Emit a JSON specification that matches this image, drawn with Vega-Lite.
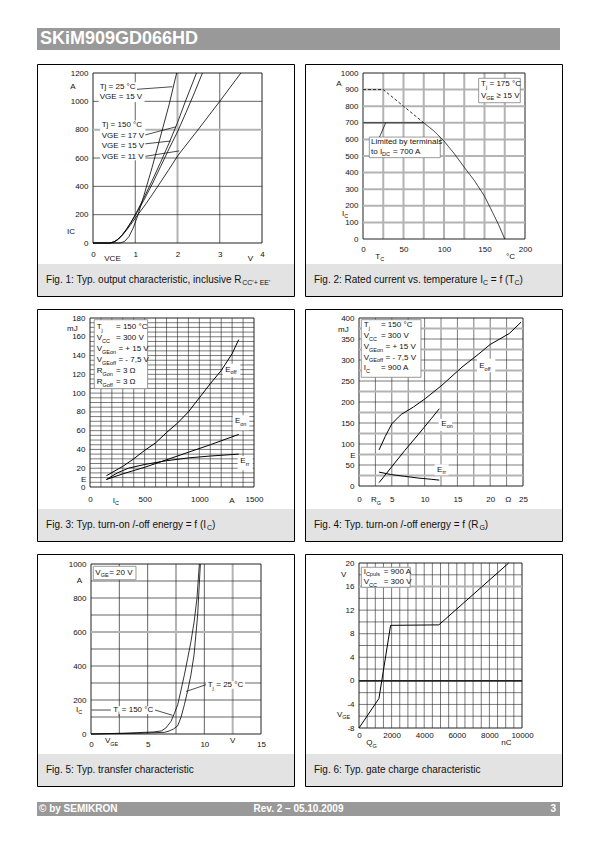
{
"$schema": "https://vega.github.io/schema/vega-lite/v6.json",
"background": "white",
"padding": {"left": 36, "top": 28, "right": 0, "bottom": 0},
"spacing": 15,
"config": {
 "font": "Liberation Sans",
 "view": {"stroke": null},
 "axis": {"grid": false, "ticks": false, "domain": false, "labelFont": "Liberation Sans", "labelFontSize": 8, "labelColor": "#111", "labelPadding": 5, "labelFlush": false, "labelOverlap": false, "labelBound": false},
 "text": {"font": "Liberation Sans", "align": "left", "baseline": "middle", "color": "#111"}
},
"datasets": {
 "p1g": [
  {"o":"v","x":0,"x2":0,"y":0,"y2":1200},{"o":"v","x":1,"x2":1,"y":0,"y2":1200},{"o":"v","x":2,"x2":2,"y":0,"y2":1200},{"o":"v","x":3,"x2":3,"y":0,"y2":1200},{"o":"v","x":4,"x2":4,"y":0,"y2":1200},
  {"o":"h","y":0,"y2":0,"x":0,"x2":4},{"o":"h","y":200,"y2":200,"x":0,"x2":4},{"o":"h","y":400,"y2":400,"x":0,"x2":4},{"o":"h","y":600,"y2":600,"x":0,"x2":4},{"o":"h","y":800,"y2":800,"x":0,"x2":4},{"o":"h","y":1000,"y2":1000,"x":0,"x2":4},{"o":"h","y":1200,"y2":1200,"x":0,"x2":4}
 ],
 "p1c": [
  {"s":"a25","x":0,"y":0},{"s":"a25","x":0.65,"y":0},{"s":"a25","x":0.75,"y":12},{"s":"a25","x":0.85,"y":45},{"s":"a25","x":0.95,"y":105},{"s":"a25","x":1.05,"y":185},{"s":"a25","x":1.2,"y":330},{"s":"a25","x":1.4,"y":535},{"s":"a25","x":1.6,"y":755},{"s":"a25","x":1.8,"y":975},{"s":"a25","x":1.98,"y":1200},
  {"s":"b17","x":0,"y":0},{"s":"b17","x":0.4,"y":0},{"s":"b17","x":0.5,"y":8},{"s":"b17","x":0.6,"y":28},{"s":"b17","x":0.7,"y":60},{"s":"b17","x":0.8,"y":100},{"s":"b17","x":0.9,"y":148},{"s":"b17","x":1.0,"y":200},{"s":"b17","x":1.2,"y":315},{"s":"b17","x":1.4,"y":440},{"s":"b17","x":1.6,"y":570},{"s":"b17","x":1.8,"y":705},{"s":"b17","x":2.0,"y":850},{"s":"b17","x":2.2,"y":1010},{"s":"b17","x":2.45,"y":1200},
  {"s":"c15","x":0,"y":0},{"s":"c15","x":0.4,"y":0},{"s":"c15","x":0.5,"y":8},{"s":"c15","x":0.6,"y":28},{"s":"c15","x":0.7,"y":60},{"s":"c15","x":0.8,"y":100},{"s":"c15","x":0.9,"y":146},{"s":"c15","x":1.0,"y":195},{"s":"c15","x":1.2,"y":300},{"s":"c15","x":1.4,"y":415},{"s":"c15","x":1.6,"y":540},{"s":"c15","x":1.8,"y":665},{"s":"c15","x":2.0,"y":785},{"s":"c15","x":2.2,"y":920},{"s":"c15","x":2.4,"y":1060},{"s":"c15","x":2.59,"y":1200},
  {"s":"d11","x":0.4,"y":0},{"s":"d11","x":0.5,"y":8},{"s":"d11","x":0.6,"y":27},{"s":"d11","x":0.7,"y":57},{"s":"d11","x":0.8,"y":93},{"s":"d11","x":0.9,"y":133},{"s":"d11","x":1.0,"y":175},{"s":"d11","x":1.2,"y":255},{"s":"d11","x":1.4,"y":340},{"s":"d11","x":1.6,"y":430},{"s":"d11","x":1.8,"y":520},{"s":"d11","x":2.0,"y":614},{"s":"d11","x":2.5,"y":805},{"s":"d11","x":3.0,"y":1000},{"s":"d11","x":3.5,"y":1200}
 ],
 "p1b": [
  {"k":"w","x":0.13,"x2":1.22,"y":1135,"y2":995},{"k":"w","x":0.17,"x2":1.24,"y":865,"y2":585}
 ],
 "p1l": [
  {"x":1.04,"y":1085,"x2":1.88,"y2":1103},{"x":1.24,"y":763,"x2":1.96,"y2":820},{"x":1.24,"y":700,"x2":1.84,"y2":720},{"x":1.24,"y":612,"x2":2.04,"y2":650}
 ],
 "p1t": [
  {"k":"m","x":0.158,"y":1098,"t":"Tj = 25 °C"},{"k":"m","x":0.158,"y":1032,"t":"VGE = 15 V"},{"k":"m","x":0.206,"y":834,"t":"Tj = 150 °C"},{"k":"m","x":0.206,"y":758,"t":"VGE = 17 V"},{"k":"m","x":0.206,"y":683,"t":"VGE = 15 V"},{"k":"m","x":0.206,"y":609,"t":"VGE = 11 V"},
  {"k":"m","x":-0.537,"y":1102,"t":"A"},{"k":"m","x":-0.615,"y":80,"t":"IC"},{"k":"m","x":0.267,"y":-110,"t":"VCE"},{"k":"m","x":3.66,"y":-110,"t":"V"},
  {"k":"c","x":-1.112,"y":-261,"t":"Fig. 1: Typ. output characteristic, inclusive R"},{"k":"cs","x":3.531,"y":-282,"t":"CC'+ EE'"}
 ],
 "p2g": [
  {"o":"v","x":0,"x2":0,"y":0,"y2":1000},{"o":"v","x":25,"x2":25,"y":0,"y2":1000},{"o":"v","x":50,"x2":50,"y":0,"y2":1000},{"o":"v","x":75,"x2":75,"y":0,"y2":1000},{"o":"v","x":100,"x2":100,"y":0,"y2":1000},{"o":"v","x":125,"x2":125,"y":0,"y2":1000},{"o":"v","x":150,"x2":150,"y":0,"y2":1000},{"o":"v","x":175,"x2":175,"y":0,"y2":1000},{"o":"v","x":200,"x2":200,"y":0,"y2":1000},
  {"o":"h","y":0,"y2":0,"x":0,"x2":200},{"o":"h","y":100,"y2":100,"x":0,"x2":200},{"o":"h","y":200,"y2":200,"x":0,"x2":200},{"o":"h","y":300,"y2":300,"x":0,"x2":200},{"o":"h","y":400,"y2":400,"x":0,"x2":200},{"o":"h","y":500,"y2":500,"x":0,"x2":200},{"o":"h","y":600,"y2":600,"x":0,"x2":200},{"o":"h","y":700,"y2":700,"x":0,"x2":200},{"o":"h","y":800,"y2":800,"x":0,"x2":200},{"o":"h","y":900,"y2":900,"x":0,"x2":200},{"o":"h","y":1000,"y2":1000,"x":0,"x2":200}
 ],
 "p2c": [
  {"s":"solid","x":0,"y":700},{"s":"solid","x":75,"y":700},{"s":"solid","x":87.5,"y":651},{"s":"solid","x":100,"y":590},{"s":"solid","x":112.5,"y":515},{"s":"solid","x":125,"y":432},{"s":"solid","x":137.5,"y":352},{"s":"solid","x":150,"y":258},{"s":"solid","x":160,"y":160},{"s":"solid","x":167.5,"y":85},{"s":"solid","x":175,"y":0},
  {"s":"dash","x":0,"y":900},{"s":"dash","x":25,"y":900},{"s":"dash","x":75,"y":700}
 ],
 "p2b": [
  {"k":"b","x":142.8,"x2":194.2,"y":968,"y2":821},{"k":"b","x":7.8,"x2":95.4,"y":614,"y2":490}
 ],
 "p2l": [{"x":28,"y":700,"x2":20.4,"y2":614}],
 "p2t": [
  {"k":"m","x":145.7,"y":932,"t":"T"},{"k":"m","x":156.2,"y":932,"t":"= 175 °C"},{"k":"m","x":145.7,"y":863,"t":"V"},{"k":"m","x":164.7,"y":863,"t":"≥ 15 V"},
  {"k":"m","x":9.9,"y":582,"t":"Limited by terminals"},{"k":"m","x":9.9,"y":526,"t":"to I"},{"k":"m","x":37,"y":526,"t":"= 700 A"},
  {"k":"m","x":-33,"y":935,"t":"A"},{"k":"m","x":-26,"y":152,"t":"I"},{"k":"m","x":15.2,"y":-108,"t":"T"},{"k":"m","x":176.5,"y":-108,"t":"°C"},
  {"k":"s","x":151.7,"y":917,"t":"j"},{"k":"s","x":152.2,"y":848,"t":"GE"},{"k":"s","x":23.6,"y":511,"t":"DC"},{"k":"s","x":-23.3,"y":138,"t":"C"},{"k":"s","x":21.2,"y":-123,"t":"C"},
  {"k":"c","x":-60.5,"y":-247,"t":"Fig. 2: Rated current vs. temperature I"},{"k":"c","x":157.8,"y":-247,"t":"= f (T"},{"k":"c","x":193.2,"y":-247,"t":")"},
  {"k":"cs","x":148.1,"y":-265,"t":"C"},{"k":"cs","x":186.9,"y":-265,"t":"C"}
 ],
 "p3g": [
  {"o":"v","x":0,"x2":0,"y":0,"y2":180},{"o":"v","x":100,"x2":100,"y":0,"y2":180},{"o":"v","x":200,"x2":200,"y":0,"y2":180},{"o":"v","x":300,"x2":300,"y":0,"y2":180},{"o":"v","x":400,"x2":400,"y":0,"y2":180},{"o":"v","x":500,"x2":500,"y":0,"y2":180},{"o":"v","x":600,"x2":600,"y":0,"y2":180},{"o":"v","x":700,"x2":700,"y":0,"y2":180},{"o":"v","x":800,"x2":800,"y":0,"y2":180},{"o":"v","x":900,"x2":900,"y":0,"y2":180},{"o":"v","x":1000,"x2":1000,"y":0,"y2":180},{"o":"v","x":1100,"x2":1100,"y":0,"y2":180},{"o":"v","x":1200,"x2":1200,"y":0,"y2":180},{"o":"v","x":1300,"x2":1300,"y":0,"y2":180},{"o":"v","x":1400,"x2":1400,"y":0,"y2":180},{"o":"v","x":1500,"x2":1500,"y":0,"y2":180},
  {"o":"h","y":0,"y2":0,"x":0,"x2":1500},{"o":"h","y":5,"y2":5,"x":0,"x2":1500},{"o":"h","y":10,"y2":10,"x":0,"x2":1500},{"o":"h","y":15,"y2":15,"x":0,"x2":1500},{"o":"h","y":20,"y2":20,"x":0,"x2":1500},{"o":"h","y":25,"y2":25,"x":0,"x2":1500},{"o":"h","y":30,"y2":30,"x":0,"x2":1500},{"o":"h","y":35,"y2":35,"x":0,"x2":1500},{"o":"h","y":40,"y2":40,"x":0,"x2":1500},{"o":"h","y":45,"y2":45,"x":0,"x2":1500},{"o":"h","y":50,"y2":50,"x":0,"x2":1500},{"o":"h","y":55,"y2":55,"x":0,"x2":1500},{"o":"h","y":60,"y2":60,"x":0,"x2":1500},{"o":"h","y":65,"y2":65,"x":0,"x2":1500},{"o":"h","y":70,"y2":70,"x":0,"x2":1500},{"o":"h","y":75,"y2":75,"x":0,"x2":1500},{"o":"h","y":80,"y2":80,"x":0,"x2":1500},{"o":"h","y":85,"y2":85,"x":0,"x2":1500},{"o":"h","y":90,"y2":90,"x":0,"x2":1500},{"o":"h","y":95,"y2":95,"x":0,"x2":1500},{"o":"h","y":100,"y2":100,"x":0,"x2":1500},{"o":"h","y":105,"y2":105,"x":0,"x2":1500},{"o":"h","y":110,"y2":110,"x":0,"x2":1500},{"o":"h","y":115,"y2":115,"x":0,"x2":1500},{"o":"h","y":120,"y2":120,"x":0,"x2":1500},{"o":"h","y":125,"y2":125,"x":0,"x2":1500},{"o":"h","y":130,"y2":130,"x":0,"x2":1500},{"o":"h","y":135,"y2":135,"x":0,"x2":1500},{"o":"h","y":140,"y2":140,"x":0,"x2":1500},{"o":"h","y":145,"y2":145,"x":0,"x2":1500},{"o":"h","y":150,"y2":150,"x":0,"x2":1500},{"o":"h","y":155,"y2":155,"x":0,"x2":1500},{"o":"h","y":160,"y2":160,"x":0,"x2":1500},{"o":"h","y":165,"y2":165,"x":0,"x2":1500},{"o":"h","y":170,"y2":170,"x":0,"x2":1500},{"o":"h","y":175,"y2":175,"x":0,"x2":1500},{"o":"h","y":180,"y2":180,"x":0,"x2":1500}
 ],
 "p3c": [
  {"s":"off","x":150,"y":12},{"s":"off","x":300,"y":22},{"s":"off","x":400,"y":30},{"s":"off","x":500,"y":39},{"s":"off","x":600,"y":47},{"s":"off","x":700,"y":58},{"s":"off","x":800,"y":68},{"s":"off","x":900,"y":80},{"s":"off","x":1000,"y":95},{"s":"off","x":1100,"y":110},{"s":"off","x":1200,"y":124},{"s":"off","x":1300,"y":142},{"s":"off","x":1360,"y":157},
  {"s":"on","x":150,"y":8},{"s":"on","x":300,"y":14},{"s":"on","x":500,"y":21},{"s":"on","x":700,"y":29},{"s":"on","x":900,"y":37},{"s":"on","x":1100,"y":45},{"s":"on","x":1360,"y":56},
  {"s":"rr","x":150,"y":8},{"s":"rr","x":250,"y":15},{"s":"rr","x":350,"y":20},{"s":"rr","x":500,"y":24},{"s":"rr","x":700,"y":28},{"s":"rr","x":900,"y":31},{"s":"rr","x":1100,"y":33},{"s":"rr","x":1360,"y":35}
 ],
 "p3b": [
  {"k":"b","x":39,"x2":527,"y":178.2,"y2":104.7},
  {"k":"w","x":1214,"x2":1375,"y":131.3,"y2":117.2},{"k":"w","x":1305,"x2":1457,"y":76.4,"y2":60.4},{"k":"w","x":1351,"x2":1488,"y":33,"y2":17.8}
 ],
 "p3t": [
  {"k":"m","x":61,"y":170.4,"t":"T"},{"k":"m","x":61,"y":158.7,"t":"V"},{"k":"m","x":61,"y":146.6,"t":"V"},{"k":"m","x":61,"y":134.9,"t":"V"},{"k":"m","x":61,"y":123.2,"t":"R"},{"k":"m","x":61,"y":111.5,"t":"R"},
  {"k":"m","x":238,"y":170.4,"t":"= 150 °C"},{"k":"m","x":238,"y":158.7,"t":"= 300 V"},{"k":"m","x":260,"y":146.6,"t":"= + 15 V"},{"k":"m","x":260,"y":134.9,"t":"= - 7,5 V"},{"k":"m","x":238,"y":123.2,"t":"= 3 Ω"},{"k":"m","x":238,"y":111.5,"t":"= 3 Ω"},
  {"k":"m","x":1237,"y":125,"t":"E"},{"k":"m","x":1326,"y":70,"t":"E"},{"k":"m","x":1375,"y":27.4,"t":"E"},
  {"k":"m","x":-210,"y":168.6,"t":"mJ"},{"k":"m","x":-82,"y":7.8,"t":"E"},{"k":"m","x":207.6,"y":-14.5,"t":"I"},{"k":"m","x":1274,"y":-14.5,"t":"A"},
  {"k":"s","x":105.8,"y":167.7,"t":"j"},{"k":"s","x":109.5,"y":156,"t":"CC"},{"k":"s","x":109.5,"y":143.9,"t":"GEon"},{"k":"s","x":109.5,"y":132.2,"t":"GEoff"},{"k":"s","x":114,"y":120.5,"t":"Gon"},{"k":"s","x":114,"y":108.8,"t":"Goff"},
  {"k":"s","x":1285.5,"y":122.3,"t":"off"},{"k":"s","x":1374.5,"y":67.3,"t":"on"},{"k":"s","x":1423.5,"y":24.7,"t":"rr"},{"k":"s","x":227.7,"y":-17.2,"t":"C"},
  {"k":"c","x":-402,"y":-40.5,"t":"Fig. 3: Typ. turn-on /-off energy = f (I"},{"k":"c","x":1115.4,"y":-40.5,"t":")"},{"k":"cs","x":1069,"y":-43.7,"t":"C"}
 ],
 "p4g": [
  {"o":"v","x":0,"x2":0,"y":0,"y2":400},{"o":"v","x":2.5,"x2":2.5,"y":0,"y2":400},{"o":"v","x":5,"x2":5,"y":0,"y2":400},{"o":"v","x":7.5,"x2":7.5,"y":0,"y2":400},{"o":"v","x":10,"x2":10,"y":0,"y2":400},{"o":"v","x":12.5,"x2":12.5,"y":0,"y2":400},{"o":"v","x":15,"x2":15,"y":0,"y2":400},{"o":"v","x":17.5,"x2":17.5,"y":0,"y2":400},{"o":"v","x":20,"x2":20,"y":0,"y2":400},{"o":"v","x":22.5,"x2":22.5,"y":0,"y2":400},{"o":"v","x":25,"x2":25,"y":0,"y2":400},
  {"o":"h","y":0,"y2":0,"x":0,"x2":25},{"o":"h","y":25,"y2":25,"x":0,"x2":25},{"o":"h","y":50,"y2":50,"x":0,"x2":25},{"o":"h","y":75,"y2":75,"x":0,"x2":25},{"o":"h","y":100,"y2":100,"x":0,"x2":25},{"o":"h","y":125,"y2":125,"x":0,"x2":25},{"o":"h","y":150,"y2":150,"x":0,"x2":25},{"o":"h","y":175,"y2":175,"x":0,"x2":25},{"o":"h","y":200,"y2":200,"x":0,"x2":25},{"o":"h","y":225,"y2":225,"x":0,"x2":25},{"o":"h","y":250,"y2":250,"x":0,"x2":25},{"o":"h","y":275,"y2":275,"x":0,"x2":25},{"o":"h","y":300,"y2":300,"x":0,"x2":25},{"o":"h","y":325,"y2":325,"x":0,"x2":25},{"o":"h","y":350,"y2":350,"x":0,"x2":25},{"o":"h","y":375,"y2":375,"x":0,"x2":25},{"o":"h","y":400,"y2":400,"x":0,"x2":25}
 ],
 "p4c": [
  {"s":"off","x":3.06,"y":86},{"s":"off","x":4,"y":118},{"s":"off","x":5,"y":148},{"s":"off","x":6,"y":164},{"s":"off","x":6.5,"y":171},{"s":"off","x":8.3,"y":188},{"s":"off","x":10.1,"y":208},{"s":"off","x":12.65,"y":240},{"s":"off","x":15.7,"y":283},{"s":"off","x":18.3,"y":315},{"s":"off","x":20,"y":337},{"s":"off","x":22.9,"y":363},{"s":"off","x":24.7,"y":390},
  {"s":"on","x":3.06,"y":8},{"s":"on","x":5,"y":46},{"s":"on","x":7,"y":85},{"s":"on","x":9,"y":122},{"s":"on","x":11,"y":160},{"s":"on","x":12.24,"y":184},
  {"s":"rr","x":3.06,"y":33},{"s":"rr","x":5,"y":27},{"s":"rr","x":7,"y":23},{"s":"rr","x":9,"y":19},{"s":"rr","x":11,"y":16},{"s":"rr","x":12.24,"y":14}
 ],
 "p4b": [
  {"k":"b","x":0.35,"x2":9.45,"y":396,"y2":258.8},
  {"k":"w","x":17.99,"x2":20.78,"y":303,"y2":271},{"k":"w","x":12.15,"x2":14.18,"y":160,"y2":131},{"k":"w","x":11.54,"x2":13.67,"y":51.7,"y2":25.5}
 ],
 "p4t": [
  {"k":"m","x":0.72,"y":382.6,"t":"T"},{"k":"m","x":0.72,"y":356.4,"t":"V"},{"k":"m","x":0.72,"y":331,"t":"V"},{"k":"m","x":0.72,"y":305.5,"t":"V"},{"k":"m","x":0.72,"y":281,"t":"I"},
  {"k":"m","x":3.35,"y":382.6,"t":"= 150 °C"},{"k":"m","x":3.35,"y":356.4,"t":"= 300 V"},{"k":"m","x":4.04,"y":331,"t":"= + 15 V"},{"k":"m","x":4.04,"y":305.5,"t":"= - 7,5 V"},{"k":"m","x":3.35,"y":281,"t":"= 900 A"},
  {"k":"m","x":18.34,"y":285,"t":"E"},{"k":"m","x":12.55,"y":148,"t":"E"},{"k":"m","x":11.9,"y":38.8,"t":"E"},
  {"k":"m","x":-3.2,"y":372,"t":"mJ"},{"k":"m","x":-1.33,"y":71,"t":"E"},{"k":"m","x":1.83,"y":-33.6,"t":"R"},{"k":"m","x":22.3,"y":-33.6,"t":"Ω"},
  {"k":"s","x":1.47,"y":376.6,"t":"j"},{"k":"s","x":1.53,"y":350.4,"t":"CC"},{"k":"s","x":1.53,"y":325,"t":"GEon"},{"k":"s","x":1.53,"y":299.5,"t":"GEoff"},{"k":"s","x":1.06,"y":275,"t":"C"},
  {"k":"s","x":19.15,"y":279,"t":"off"},{"k":"s","x":13.36,"y":142,"t":"on"},{"k":"s","x":12.71,"y":32.8,"t":"rr"},{"k":"s","x":2.71,"y":-39.6,"t":"G"},
  {"k":"c","x":-6.86,"y":-92.9,"t":"Fig. 4: Typ. turn-on /-off energy = f (R"},{"k":"c","x":19.18,"y":-92.9,"t":")"},{"k":"cs","x":18.35,"y":-100,"t":"G"}
 ],
 "p5g": [
  {"o":"v","x":0,"x2":0,"y":0,"y2":1000},{"o":"v","x":2.5,"x2":2.5,"y":0,"y2":1000},{"o":"v","x":5,"x2":5,"y":0,"y2":1000},{"o":"v","x":7.5,"x2":7.5,"y":0,"y2":1000},{"o":"v","x":10,"x2":10,"y":0,"y2":1000},{"o":"v","x":12.5,"x2":12.5,"y":0,"y2":1000},{"o":"v","x":15,"x2":15,"y":0,"y2":1000},
  {"o":"h","y":0,"y2":0,"x":0,"x2":15},{"o":"h","y":100,"y2":100,"x":0,"x2":15},{"o":"h","y":200,"y2":200,"x":0,"x2":15},{"o":"h","y":300,"y2":300,"x":0,"x2":15},{"o":"h","y":400,"y2":400,"x":0,"x2":15},{"o":"h","y":500,"y2":500,"x":0,"x2":15},{"o":"h","y":600,"y2":600,"x":0,"x2":15},{"o":"h","y":700,"y2":700,"x":0,"x2":15},{"o":"h","y":800,"y2":800,"x":0,"x2":15},{"o":"h","y":900,"y2":900,"x":0,"x2":15},{"o":"h","y":1000,"y2":1000,"x":0,"x2":15}
 ],
 "p5c": [
  {"s":"t150","x":0,"y":0},{"s":"t150","x":3,"y":5},{"s":"t150","x":5.5,"y":12},{"s":"t150","x":6.2,"y":18},{"s":"t150","x":6.6,"y":35},{"s":"t150","x":7.06,"y":74},{"s":"t150","x":7.35,"y":120},{"s":"t150","x":7.65,"y":172},{"s":"t150","x":7.95,"y":260},{"s":"t150","x":8.24,"y":348},{"s":"t150","x":8.53,"y":445},{"s":"t150","x":8.82,"y":544},{"s":"t150","x":9.1,"y":660},{"s":"t150","x":9.35,"y":798},{"s":"t150","x":9.56,"y":1000},
  {"s":"t25","x":0,"y":0},{"s":"t25","x":4,"y":4},{"s":"t25","x":6.5,"y":10},{"s":"t25","x":6.9,"y":18},{"s":"t25","x":7.3,"y":30},{"s":"t25","x":7.65,"y":48},{"s":"t25","x":7.95,"y":100},{"s":"t25","x":8.24,"y":172},{"s":"t25","x":8.53,"y":255},{"s":"t25","x":8.82,"y":348},{"s":"t25","x":9.1,"y":470},{"s":"t25","x":9.41,"y":700},{"s":"t25","x":9.65,"y":1000}
 ],
 "p5b": [
  {"k":"b","x":0.2,"x2":3.97,"y":986.5,"y2":907.6},
  {"k":"w","x":10.15,"x2":13.6,"y":310,"y2":266.5},{"k":"w","x":1.76,"x2":5.65,"y":163,"y2":117.6}
 ],
 "p5l": [
  {"x":8.38,"y":250,"x2":10.15,"y2":290},{"x":0.05,"y":141,"x2":1.76,"y2":141},{"x":5.65,"y":141,"x2":7.2,"y2":110}
 ],
 "p5t": [
  {"k":"m","x":0.38,"y":949,"t":"V"},{"k":"m","x":1.6,"y":949,"t":"= 20 V"},{"k":"m","x":-1.26,"y":898,"t":"A"},{"k":"m","x":-1.32,"y":143,"t":"I"},{"k":"m","x":1.235,"y":-42,"t":"V"},{"k":"m","x":12.26,"y":-42,"t":"V"},
  {"k":"m","x":10.3,"y":286,"t":"T"},{"k":"m","x":11.05,"y":286,"t":"= 25 °C"},{"k":"m","x":1.97,"y":141,"t":"T"},{"k":"m","x":2.72,"y":141,"t":"= 150 °C"},
  {"k":"s","x":0.85,"y":934,"t":"GE"},{"k":"s","x":-1.13,"y":128,"t":"C"},{"k":"s","x":1.7,"y":-57,"t":"GE"},{"k":"s","x":10.73,"y":271,"t":"j"},{"k":"s","x":2.4,"y":126,"t":"j"},
  {"k":"c","x":-3.97,"y":-212,"t":"Fig. 5: Typ. transfer characteristic"}
 ],
 "p6g": [
  {"o":"v","x":0,"x2":0,"y":-8,"y2":20},{"o":"v","x":500,"x2":500,"y":-8,"y2":20},{"o":"v","x":1000,"x2":1000,"y":-8,"y2":20},{"o":"v","x":1500,"x2":1500,"y":-8,"y2":20},{"o":"v","x":2000,"x2":2000,"y":-8,"y2":20},{"o":"v","x":2500,"x2":2500,"y":-8,"y2":20},{"o":"v","x":3000,"x2":3000,"y":-8,"y2":20},{"o":"v","x":3500,"x2":3500,"y":-8,"y2":20},{"o":"v","x":4000,"x2":4000,"y":-8,"y2":20},{"o":"v","x":4500,"x2":4500,"y":-8,"y2":20},{"o":"v","x":5000,"x2":5000,"y":-8,"y2":20},{"o":"v","x":5500,"x2":5500,"y":-8,"y2":20},{"o":"v","x":6000,"x2":6000,"y":-8,"y2":20},{"o":"v","x":6500,"x2":6500,"y":-8,"y2":20},{"o":"v","x":7000,"x2":7000,"y":-8,"y2":20},{"o":"v","x":7500,"x2":7500,"y":-8,"y2":20},{"o":"v","x":8000,"x2":8000,"y":-8,"y2":20},{"o":"v","x":8500,"x2":8500,"y":-8,"y2":20},{"o":"v","x":9000,"x2":9000,"y":-8,"y2":20},{"o":"v","x":9500,"x2":9500,"y":-8,"y2":20},{"o":"v","x":10000,"x2":10000,"y":-8,"y2":20},
  {"o":"h","y":-8,"y2":-8,"x":0,"x2":10000},{"o":"h","y":-6,"y2":-6,"x":0,"x2":10000},{"o":"h","y":-4,"y2":-4,"x":0,"x2":10000},{"o":"h","y":-2,"y2":-2,"x":0,"x2":10000},{"o":"h","y":0,"y2":0,"x":0,"x2":10000},{"o":"h","y":2,"y2":2,"x":0,"x2":10000},{"o":"h","y":4,"y2":4,"x":0,"x2":10000},{"o":"h","y":6,"y2":6,"x":0,"x2":10000},{"o":"h","y":8,"y2":8,"x":0,"x2":10000},{"o":"h","y":10,"y2":10,"x":0,"x2":10000},{"o":"h","y":12,"y2":12,"x":0,"x2":10000},{"o":"h","y":14,"y2":14,"x":0,"x2":10000},{"o":"h","y":16,"y2":16,"x":0,"x2":10000},{"o":"h","y":18,"y2":18,"x":0,"x2":10000},{"o":"h","y":20,"y2":20,"x":0,"x2":10000}
 ],
 "p6c": [
  {"s":"q","x":0,"y":-8},{"s":"q","x":1224,"y":-3},{"s":"q","x":1939,"y":9.42},{"s":"q","x":4898,"y":9.5},{"s":"q","x":9184,"y":20}
 ],
 "p6b": [{"k":"b","x":141,"x2":3147,"y":19.27,"y2":15.88}],
 "p6t": [
  {"k":"m","x":288,"y":18.47,"t":"I"},{"k":"m","x":1515,"y":18.47,"t":"= 900 A"},{"k":"m","x":288,"y":16.72,"t":"V"},{"k":"m","x":1515,"y":16.72,"t":"= 300 V"},
  {"k":"m","x":-1104,"y":18,"t":"V"},{"k":"m","x":-1350,"y":-5.74,"t":"V"},{"k":"m","x":448,"y":-10.6,"t":"Q"},{"k":"m","x":8730,"y":-10.6,"t":"nC"},
  {"k":"s","x":423,"y":18.05,"t":"Cpuls"},{"k":"s","x":613,"y":16.3,"t":"CC"},{"k":"s","x":-1025,"y":-6.2,"t":"GE"},{"k":"s","x":828,"y":-11.0,"t":"G"},
  {"k":"c","x":-2761,"y":-15.13,"t":"Fig. 6: Typ. gate charge characteristic"}
 ]
},
"vconcat": [
 {"spacing": 13, "vconcat": [
  {"width": 523, "height": 22, "view": {"fill": "#999999", "stroke": null},
   "data": {"values": [{"t": "SKiM909GD066HD"}]},
   "mark": {"type": "text", "dx": 3, "fontSize": 18, "fontWeight": "bold", "color": "white"},
   "encoding": {"x": {"datum": 0, "type": "quantitative", "scale": {"domain": [0, 1]}, "axis": null},
                "y": {"datum": 0.5, "type": "quantitative", "scale": {"domain": [0, 1]}, "axis": null},
                "text": {"field": "t"}}},
  {"spacing": 11, "vconcat": [
   {"spacing": 9, "hconcat": [
    {"width": 257, "height": 232,
     "view": {"stroke": "black", "strokeWidth": 1, "fill": {"gradient": "linear", "x1": 0, "y1": 0, "x2": 0, "y2": 1, "stops": [{"offset": 0, "color": "#ffffff"}, {"offset": 0.862, "color": "#ffffff"}, {"offset": 0.862, "color": "#e3e3e3"}, {"offset": 1, "color": "#e3e3e3"}]}},
     "encoding": {
      "x": {"field": "x", "type": "quantitative", "scale": {"domain": [0, 4], "range": [56, 225], "nice": false, "zero": false},
            "axis": {"title": null, "orient": "bottom", "offset": -53, "labelPadding": 7, "values": [0, 1, 2, 3, 4], "labelExpr": "'' + datum.value"}},
      "y": {"field": "y", "type": "quantitative", "scale": {"domain": [0, 1200], "range": [179, 9], "nice": false, "zero": false},
            "axis": {"title": null, "orient": "left", "offset": -56, "values": [0, 200, 400, 600, 800, 1000, 1200], "labelExpr": "'' + datum.value"}}
     },
     "layer": [
      {"data": {"name": "p1g"}, "mark": {"type": "rule"}, "encoding": {"x2": {"field": "x2"}, "y2": {"field": "y2"},
        "color": {"condition": {"test": "(datum.o === 'v' && datum.x === 2) || (datum.o === 'h' && datum.y === 800)", "value": "#b3b3b3"}, "value": "#222"},
        "strokeWidth": {"condition": [{"test": "(datum.o === 'v' && datum.x === 2) || (datum.o === 'h' && datum.y === 800)", "value": 2}, {"test": "(datum.o === 'v' && (datum.x === 0 || datum.x === 4)) || (datum.o === 'h' && (datum.y === 0 || datum.y === 1200))", "value": 1}], "value": 0.7}}},
      {"data": {"name": "p1b"}, "mark": {"type": "rect", "fill": "white"}, "encoding": {"x2": {"field": "x2"}, "y2": {"field": "y2"}}},
      {"data": {"name": "p1c"}, "mark": {"type": "line", "color": "black"}, "encoding": {"detail": {"field": "s"}, "strokeWidth": {"field": "s", "type": "nominal", "scale": {"domain": ["a25", "b17", "c15", "d11"], "range": [0.8, 0.8, 2, 0.8]}, "legend": null}}},
      {"data": {"name": "p1l"}, "mark": {"type": "rule", "color": "black", "strokeWidth": 0.7}, "encoding": {"x2": {"field": "x2"}, "y2": {"field": "y2"}}},
      {"data": {"name": "p1t"}, "transform": [{"filter": "datum.k === 'm'"}], "mark": {"type": "text", "fontSize": 8}, "encoding": {"text": {"field": "t"}}},
      {"data": {"name": "p1t"}, "transform": [{"filter": "datum.k === 'c'"}], "mark": {"type": "text", "fontSize": 10}, "encoding": {"text": {"field": "t"}}},
      {"data": {"name": "p1t"}, "transform": [{"filter": "datum.k === 'cs'"}], "mark": {"type": "text", "fontSize": 7}, "encoding": {"text": {"field": "t"}}}
     ]},
    {"width": 257, "height": 232,
     "view": {"stroke": "black", "strokeWidth": 1, "fill": {"gradient": "linear", "x1": 0, "y1": 0, "x2": 0, "y2": 1, "stops": [{"offset": 0, "color": "#ffffff"}, {"offset": 0.862, "color": "#ffffff"}, {"offset": 0.862, "color": "#e3e3e3"}, {"offset": 1, "color": "#e3e3e3"}]}},
     "encoding": {
      "x": {"field": "x", "type": "quantitative", "scale": {"domain": [0, 200], "range": [58, 220], "nice": false, "zero": false},
            "axis": {"title": null, "orient": "bottom", "offset": -57, "labelPadding": 6.5, "values": [0, 50, 100, 150, 200], "labelExpr": "'' + datum.value"}},
      "y": {"field": "y", "type": "quantitative", "scale": {"domain": [0, 1000], "range": [175, 9], "nice": false, "zero": false},
            "axis": {"title": null, "orient": "left", "offset": -58, "values": [0, 100, 200, 300, 400, 500, 600, 700, 800, 900, 1000], "labelExpr": "'' + datum.value"}}
     },
     "layer": [
      {"data": {"name": "p2g"}, "mark": {"type": "rule"}, "encoding": {"x2": {"field": "x2"}, "y2": {"field": "y2"},
        "color": {"condition": {"test": "(datum.o === 'v' && (datum.x === 0 || datum.x === 200)) || (datum.o === 'h' && (datum.y === 0 || datum.y === 1000))", "value": "#222"}, "value": "#b3b3b3"},
        "strokeWidth": {"condition": {"test": "(datum.o === 'v' && (datum.x === 0 || datum.x === 200)) || (datum.o === 'h' && (datum.y === 0 || datum.y === 1000))", "value": 1}, "value": 2}}},
      {"data": {"name": "p2b"}, "mark": {"type": "rect", "fill": "white", "stroke": "#808080", "strokeWidth": 0.8}, "encoding": {"x2": {"field": "x2"}, "y2": {"field": "y2"}}},
      {"data": {"name": "p2c"}, "mark": {"type": "line", "color": "black"}, "encoding": {"detail": {"field": "s"}, "strokeWidth": {"field": "s", "type": "nominal", "scale": {"domain": ["solid", "dash"], "range": [2, 0.8]}, "legend": null}, "strokeDash": {"field": "s", "type": "nominal", "scale": {"domain": ["solid", "dash"], "range": [[1, 0], [3, 2]]}, "legend": null}}},
      {"data": {"name": "p2l"}, "mark": {"type": "rule", "color": "black", "strokeWidth": 0.7}, "encoding": {"x2": {"field": "x2"}, "y2": {"field": "y2"}}},
      {"data": {"name": "p2t"}, "transform": [{"filter": "datum.k === 'm'"}], "mark": {"type": "text", "fontSize": 8}, "encoding": {"text": {"field": "t"}}},
      {"data": {"name": "p2t"}, "transform": [{"filter": "datum.k === 's'"}], "mark": {"type": "text", "fontSize": 5.5}, "encoding": {"text": {"field": "t"}}},
      {"data": {"name": "p2t"}, "transform": [{"filter": "datum.k === 'c'"}], "mark": {"type": "text", "fontSize": 10}, "encoding": {"text": {"field": "t"}}},
      {"data": {"name": "p2t"}, "transform": [{"filter": "datum.k === 'cs'"}], "mark": {"type": "text", "fontSize": 7}, "encoding": {"text": {"field": "t"}}}
     ]}
   ]},
   {"spacing": 9, "hconcat": [
    {"width": 257, "height": 232,
     "view": {"stroke": "black", "strokeWidth": 1, "fill": {"gradient": "linear", "x1": 0, "y1": 0, "x2": 0, "y2": 1, "stops": [{"offset": 0, "color": "#ffffff"}, {"offset": 0.862, "color": "#ffffff"}, {"offset": 0.862, "color": "#e3e3e3"}, {"offset": 1, "color": "#e3e3e3"}]}},
     "encoding": {
      "x": {"field": "x", "type": "quantitative", "scale": {"domain": [0, 1500], "range": [53, 217], "nice": false, "zero": false},
            "axis": {"title": null, "orient": "bottom", "offset": -54, "labelPadding": 8, "values": [0, 500, 1000, 1500], "labelExpr": "'' + datum.value"}},
      "y": {"field": "y", "type": "quantitative", "scale": {"domain": [0, 180], "range": [178, 9], "nice": false, "zero": false},
            "axis": {"title": null, "orient": "left", "offset": -53, "values": [0, 20, 40, 60, 80, 100, 120, 140, 160, 180], "labelExpr": "'' + datum.value"}}
     },
     "layer": [
      {"data": {"name": "p3g"}, "mark": {"type": "rule", "color": "#222"}, "encoding": {"x2": {"field": "x2"}, "y2": {"field": "y2"},
        "strokeWidth": {"condition": {"test": "(datum.o === 'v' && (datum.x === 0 || datum.x === 1500)) || (datum.o === 'h' && (datum.y === 0 || datum.y === 180))", "value": 1}, "value": 0.6}}},
      {"data": {"name": "p3b"}, "transform": [{"filter": "datum.k === 'b'"}], "mark": {"type": "rect", "fill": "white", "stroke": "#808080", "strokeWidth": 0.8}, "encoding": {"x2": {"field": "x2"}, "y2": {"field": "y2"}}},
      {"data": {"name": "p3b"}, "transform": [{"filter": "datum.k === 'w'"}], "mark": {"type": "rect", "fill": "white"}, "encoding": {"x2": {"field": "x2"}, "y2": {"field": "y2"}}},
      {"data": {"name": "p3c"}, "mark": {"type": "line", "color": "black", "strokeWidth": 1}, "encoding": {"detail": {"field": "s"}}},
      {"data": {"name": "p3t"}, "transform": [{"filter": "datum.k === 'm'"}], "mark": {"type": "text", "fontSize": 8}, "encoding": {"text": {"field": "t"}}},
      {"data": {"name": "p3t"}, "transform": [{"filter": "datum.k === 's'"}], "mark": {"type": "text", "fontSize": 5.5}, "encoding": {"text": {"field": "t"}}},
      {"data": {"name": "p3t"}, "transform": [{"filter": "datum.k === 'c'"}], "mark": {"type": "text", "fontSize": 10}, "encoding": {"text": {"field": "t"}}},
      {"data": {"name": "p3t"}, "transform": [{"filter": "datum.k === 'cs'"}], "mark": {"type": "text", "fontSize": 7}, "encoding": {"text": {"field": "t"}}}
     ]},
    {"width": 257, "height": 232,
     "view": {"stroke": "black", "strokeWidth": 1, "fill": {"gradient": "linear", "x1": 0, "y1": 0, "x2": 0, "y2": 1, "stops": [{"offset": 0, "color": "#ffffff"}, {"offset": 0.862, "color": "#ffffff"}, {"offset": 0.862, "color": "#e3e3e3"}, {"offset": 1, "color": "#e3e3e3"}]}},
     "encoding": {
      "x": {"field": "x", "type": "quantitative", "scale": {"domain": [0, 25], "range": [54, 218], "nice": false, "zero": false},
            "axis": {"title": null, "orient": "bottom", "offset": -55, "labelPadding": 9, "values": [0, 5, 10, 15, 20, 25], "labelExpr": "'' + datum.value"}},
      "y": {"field": "y", "type": "quantitative", "scale": {"domain": [0, 400], "range": [177, 9], "nice": false, "zero": false},
            "axis": {"title": null, "orient": "left", "offset": -54, "values": [0, 50, 100, 150, 200, 250, 300, 350, 400], "labelExpr": "'' + datum.value"}}
     },
     "layer": [
      {"data": {"name": "p4g"}, "mark": {"type": "rule"}, "encoding": {"x2": {"field": "x2"}, "y2": {"field": "y2"},
        "color": {"condition": {"test": "datum.o === 'h' && datum.y % 50 !== 0", "value": "#b3b3b3"}, "value": "#222"},
        "strokeWidth": {"condition": [{"test": "datum.o === 'h' && datum.y % 50 !== 0", "value": 1.8}, {"test": "(datum.o === 'v' && (datum.x === 0 || datum.x === 25)) || (datum.o === 'h' && (datum.y === 0 || datum.y === 400))", "value": 1}], "value": 0.6}}},
      {"data": {"name": "p4b"}, "transform": [{"filter": "datum.k === 'b'"}], "mark": {"type": "rect", "fill": "white", "stroke": "#808080", "strokeWidth": 0.8}, "encoding": {"x2": {"field": "x2"}, "y2": {"field": "y2"}}},
      {"data": {"name": "p4b"}, "transform": [{"filter": "datum.k === 'w'"}], "mark": {"type": "rect", "fill": "white"}, "encoding": {"x2": {"field": "x2"}, "y2": {"field": "y2"}}},
      {"data": {"name": "p4c"}, "mark": {"type": "line", "color": "black", "strokeWidth": 1}, "encoding": {"detail": {"field": "s"}}},
      {"data": {"name": "p4t"}, "transform": [{"filter": "datum.k === 'm'"}], "mark": {"type": "text", "fontSize": 8}, "encoding": {"text": {"field": "t"}}},
      {"data": {"name": "p4t"}, "transform": [{"filter": "datum.k === 's'"}], "mark": {"type": "text", "fontSize": 5.5}, "encoding": {"text": {"field": "t"}}},
      {"data": {"name": "p4t"}, "transform": [{"filter": "datum.k === 'c'"}], "mark": {"type": "text", "fontSize": 10}, "encoding": {"text": {"field": "t"}}},
      {"data": {"name": "p4t"}, "transform": [{"filter": "datum.k === 'cs'"}], "mark": {"type": "text", "fontSize": 7}, "encoding": {"text": {"field": "t"}}}
     ]}
   ]},
   {"spacing": 9, "hconcat": [
    {"width": 257, "height": 232,
     "view": {"stroke": "black", "strokeWidth": 1, "fill": {"gradient": "linear", "x1": 0, "y1": 0, "x2": 0, "y2": 1, "stops": [{"offset": 0, "color": "#ffffff"}, {"offset": 0.862, "color": "#ffffff"}, {"offset": 0.862, "color": "#e3e3e3"}, {"offset": 1, "color": "#e3e3e3"}]}},
     "encoding": {
      "x": {"field": "x", "type": "quantitative", "scale": {"domain": [0, 15], "range": [54, 224], "nice": false, "zero": false},
            "axis": {"title": null, "orient": "bottom", "offset": -52, "labelPadding": 6.5, "values": [0, 5, 10, 15], "labelExpr": "'' + datum.value"}},
      "y": {"field": "y", "type": "quantitative", "scale": {"domain": [0, 1000], "range": [180, 10], "nice": false, "zero": false},
            "axis": {"title": null, "orient": "left", "offset": -54, "values": [0, 200, 400, 600, 800, 1000], "labelExpr": "'' + datum.value"}}
     },
     "layer": [
      {"data": {"name": "p5g"}, "mark": {"type": "rule"}, "encoding": {"x2": {"field": "x2"}, "y2": {"field": "y2"},
        "color": {"condition": {"test": "(datum.o === 'v' && datum.x === 12.5) || (datum.o === 'h' && datum.y === 600)", "value": "#b3b3b3"}, "value": "#222"},
        "strokeWidth": {"condition": [{"test": "(datum.o === 'v' && datum.x === 12.5) || (datum.o === 'h' && datum.y === 600)", "value": 2}, {"test": "(datum.o === 'v' && (datum.x === 0 || datum.x === 15)) || (datum.o === 'h' && (datum.y === 0 || datum.y === 1000))", "value": 1}], "value": 0.7}}},
      {"data": {"name": "p5b"}, "transform": [{"filter": "datum.k === 'b'"}], "mark": {"type": "rect", "fill": "white", "stroke": "#808080", "strokeWidth": 0.8}, "encoding": {"x2": {"field": "x2"}, "y2": {"field": "y2"}}},
      {"data": {"name": "p5l"}, "mark": {"type": "rule", "color": "black", "strokeWidth": 0.7}, "encoding": {"x2": {"field": "x2"}, "y2": {"field": "y2"}}},
      {"data": {"name": "p5b"}, "transform": [{"filter": "datum.k === 'w'"}], "mark": {"type": "rect", "fill": "white"}, "encoding": {"x2": {"field": "x2"}, "y2": {"field": "y2"}}},
      {"data": {"name": "p5c"}, "mark": {"type": "line", "color": "black"}, "encoding": {"detail": {"field": "s"}, "strokeWidth": {"field": "s", "type": "nominal", "scale": {"domain": ["t150", "t25"], "range": [2, 1]}, "legend": null}}},
      {"data": {"name": "p5t"}, "transform": [{"filter": "datum.k === 'm'"}], "mark": {"type": "text", "fontSize": 8}, "encoding": {"text": {"field": "t"}}},
      {"data": {"name": "p5t"}, "transform": [{"filter": "datum.k === 's'"}], "mark": {"type": "text", "fontSize": 5.5}, "encoding": {"text": {"field": "t"}}},
      {"data": {"name": "p5t"}, "transform": [{"filter": "datum.k === 'c'"}], "mark": {"type": "text", "fontSize": 10}, "encoding": {"text": {"field": "t"}}}
     ]},
    {"width": 257, "height": 232,
     "view": {"stroke": "black", "strokeWidth": 1, "fill": {"gradient": "linear", "x1": 0, "y1": 0, "x2": 0, "y2": 1, "stops": [{"offset": 0, "color": "#ffffff"}, {"offset": 0.862, "color": "#ffffff"}, {"offset": 0.862, "color": "#e3e3e3"}, {"offset": 1, "color": "#e3e3e3"}]}},
     "encoding": {
      "x": {"field": "x", "type": "quantitative", "scale": {"domain": [0, 10000], "range": [54, 217], "nice": false, "zero": false},
            "axis": {"title": null, "orient": "bottom", "offset": -58, "labelPadding": 3, "values": [0, 2000, 4000, 6000, 8000, 10000], "labelExpr": "'' + datum.value"}},
      "y": {"field": "y", "type": "quantitative", "scale": {"domain": [-8, 20], "range": [174, 9], "nice": false, "zero": false},
            "axis": {"title": null, "orient": "left", "offset": -54, "values": [-8, -4, 0, 4, 8, 12, 16, 20], "labelExpr": "'' + datum.value"}}
     },
     "layer": [
      {"data": {"name": "p6g"}, "mark": {"type": "rule"}, "encoding": {"x2": {"field": "x2"}, "y2": {"field": "y2"},
        "color": {"condition": {"test": "datum.o === 'h' && datum.y === 16", "value": "#b3b3b3"}, "value": "#222"},
        "strokeWidth": {"condition": [{"test": "datum.o === 'h' && datum.y === 16", "value": 2}, {"test": "datum.o === 'h' && datum.y === 0", "value": 1.6}, {"test": "(datum.o === 'v' && (datum.x === 0 || datum.x === 10000)) || (datum.o === 'h' && (datum.y === -8 || datum.y === 20))", "value": 1}], "value": 0.6}}},
      {"data": {"name": "p6b"}, "mark": {"type": "rect", "fill": "white", "stroke": "#808080", "strokeWidth": 0.8}, "encoding": {"x2": {"field": "x2"}, "y2": {"field": "y2"}}},
      {"data": {"name": "p6c"}, "mark": {"type": "line", "color": "black", "strokeWidth": 1}, "encoding": {"detail": {"field": "s"}}},
      {"data": {"name": "p6t"}, "transform": [{"filter": "datum.k === 'm'"}], "mark": {"type": "text", "fontSize": 8}, "encoding": {"text": {"field": "t"}}},
      {"data": {"name": "p6t"}, "transform": [{"filter": "datum.k === 's'"}], "mark": {"type": "text", "fontSize": 5.5}, "encoding": {"text": {"field": "t"}}},
      {"data": {"name": "p6t"}, "transform": [{"filter": "datum.k === 'c'"}], "mark": {"type": "text", "fontSize": 10}, "encoding": {"text": {"field": "t"}}}
     ]}
   ]}
  ]}
 ]},
 {"width": 523, "height": 14, "view": {"fill": "#999999", "stroke": null},
  "data": {"values": [{"a": "© by SEMIKRON", "b": "Rev. 2 – 05.10.2009", "c": "3"}]},
  "encoding": {"y": {"datum": 0.5, "type": "quantitative", "scale": {"domain": [0, 1]}, "axis": null}},
  "layer": [
   {"mark": {"type": "text", "dx": 2, "fontSize": 10, "fontWeight": "bold", "color": "white"}, "encoding": {"x": {"datum": 0, "type": "quantitative", "scale": {"domain": [0, 1]}, "axis": null}, "text": {"field": "a"}}},
   {"mark": {"type": "text", "align": "center", "fontSize": 10, "fontWeight": "bold", "color": "white"}, "encoding": {"x": {"datum": 0.5, "type": "quantitative", "scale": {"domain": [0, 1]}, "axis": null}, "text": {"field": "b"}}},
   {"mark": {"type": "text", "align": "right", "dx": -4, "fontSize": 10, "fontWeight": "bold", "color": "white"}, "encoding": {"x": {"datum": 1, "type": "quantitative", "scale": {"domain": [0, 1]}, "axis": null}, "text": {"field": "c"}}}
  ]}
]
}
